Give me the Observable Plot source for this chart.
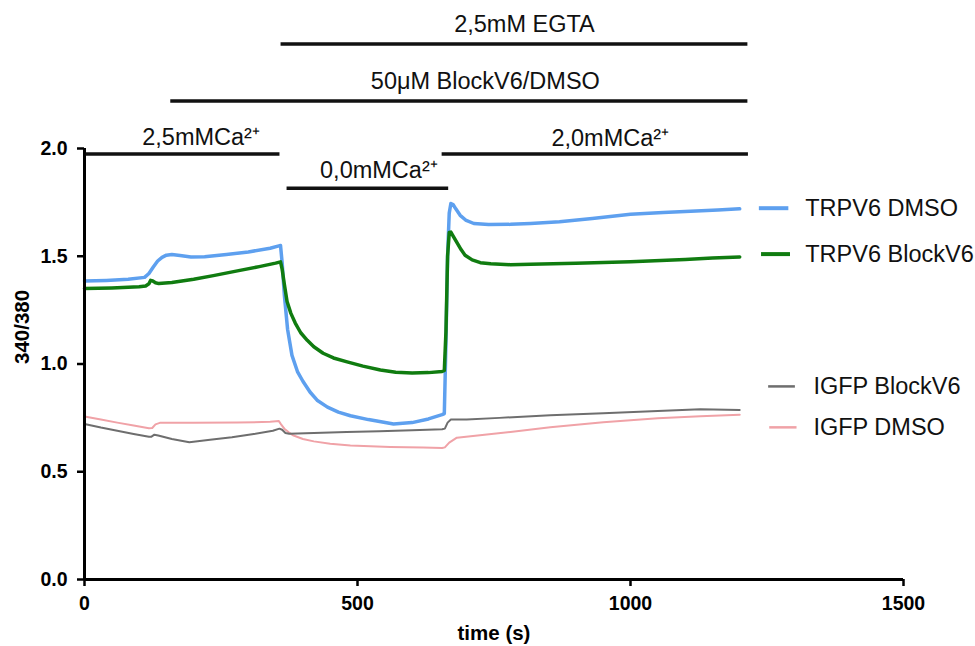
<!DOCTYPE html>
<html><head><meta charset="utf-8">
<script src="https://cdn.jsdelivr.net/npm/d3@7"></script>
<script src="https://cdn.jsdelivr.net/npm/@observablehq/plot@0.6"></script>
<style>body{margin:0;background:#fff}</style>
</head><body><div id="chart"></div>
<script>
// ---- data (time in s, ratio 340/380) ----
const trpv6DmsoT = [0,40,80,110,118,126,134,142,150,160,175,195,220,260,300,340,356,359,362,366,372,380,390,400,413,426,445,465,487,520,566,600,630,655,659,662,665,668,671,675,680,688,698,713,740,780,817,870,930,1000,1060,1120,1160,1200];
const trpv6DmsoV = [1.385,1.388,1.393,1.402,1.42,1.45,1.478,1.495,1.505,1.508,1.503,1.497,1.498,1.508,1.52,1.537,1.548,1.55,1.47,1.32,1.16,1.04,0.965,0.92,0.87,0.832,0.80,0.777,0.76,0.742,0.722,0.728,0.745,0.765,0.77,1.10,1.50,1.70,1.745,1.74,1.72,1.69,1.668,1.652,1.647,1.648,1.652,1.66,1.675,1.695,1.703,1.71,1.715,1.72];

const trpv6BlockT = [0,50,100,112,118,121,125,130,136,160,200,236,280,320,350,359,362,366,371,378,386,396,408,420,437,456,481,510,542,570,600,630,655,659,662,665,668,671,676,683,690,697,710,725,744,780,817,900,1000,1100,1150,1200];
const trpv6BlockV = [1.35,1.353,1.358,1.362,1.372,1.388,1.385,1.377,1.373,1.378,1.393,1.41,1.432,1.452,1.468,1.474,1.44,1.37,1.29,1.235,1.19,1.145,1.11,1.08,1.05,1.028,1.01,0.99,0.972,0.962,0.958,0.96,0.965,0.97,1.15,1.50,1.61,1.612,1.59,1.56,1.53,1.505,1.483,1.47,1.465,1.461,1.463,1.468,1.474,1.485,1.492,1.497];

const igfpBlockT = [0,30,60,90,118,122,128,135,160,192,230,270,310,345,357,362,368,375,420,480,540,600,655,660,665,671,700,760,853,950,1050,1128,1200];
const igfpBlockV = [0.722,0.705,0.69,0.675,0.662,0.662,0.672,0.668,0.652,0.637,0.648,0.66,0.675,0.69,0.70,0.695,0.68,0.676,0.68,0.684,0.688,0.692,0.697,0.70,0.728,0.742,0.742,0.75,0.762,0.772,0.782,0.79,0.787];

const igfpDmsoT = [0,30,60,90,118,124,130,138,200,280,340,356,360,366,374,383,400,420,450,487,560,620,655,660,668,682,720,780,853,950,1050,1128,1200];
const igfpDmsoV = [0.756,0.742,0.728,0.715,0.702,0.703,0.72,0.727,0.727,0.728,0.732,0.735,0.72,0.70,0.683,0.668,0.652,0.641,0.63,0.622,0.615,0.612,0.61,0.613,0.635,0.658,0.668,0.685,0.707,0.73,0.748,0.757,0.765];

const seriesNames = ["TRPV6 DMSO","TRPV6 BlockV6","IGFP BlockV6","IGFP DMSO"];

// protocol (application periods, s)
const protocolLabels = ["2,5mM EGTA","50μM BlockV6/DMSO","2,5mMCa²⁺","0,0mMCa²⁺","2,0mMCa²⁺"];
const protocolStart = [360,158,3,371,655];
const protocolEnd   = [1215,1215,358,667,1216];

const xTicks = [0,500,1000,1500];
const yTicks = [0,0.5,1.0,1.5,2.0];

// ---- layout / style ----
const font = "'Liberation Sans', Arial, Helvetica, sans-serif";
const colors = ["#5ea0ef","#107c10","#6e6e6e","#f0a2a7"];
const widths = [3.5,3.5,2,2];
const protoRow = [2.485,2.22,1.974,1.816,1.974];   // vertical row of each bar (in y units, above frame)
const protoDx = [10,26,18,11,15];
const protoDy = [-12,-12,-9,-10,-8];
const legendRow = [1.723,1.51,0.896,0.706];
const legendLine = [[1236,1290],[1240,1293],[1253,1302],[1255,1305]];
const legendTextX = [1320,1320,1335,1335];

const toRows = (T,V) => T.map((t,i)=>({t, v:V[i]}));
const seriesData = [toRows(trpv6DmsoT,trpv6DmsoV), toRows(trpv6BlockT,trpv6BlockV), toRows(igfpBlockT,igfpBlockV), toRows(igfpDmsoT,igfpDmsoV)];
const drawOrder = [3,2,0,1];

const protocol = protocolLabels.map((label,i)=>({label, start:protocolStart[i], end:protocolEnd[i], i}));
const legend = seriesNames.map((name,i)=>({name, i}));

const chart = Plot.plot({
  width: 975, height: 646,
  marginLeft: 84, marginRight: 72, marginTop: 148, marginBottom: 67,
  x: {domain:[0,1500]},
  y: {domain:[0,2]},
  style: {fontFamily: font, background:"white", color:"black", overflow:"visible"},
  marks: [
    ...drawOrder.map(k => Plot.line(seriesData[k], {x:"t", y:"v", stroke:colors[k], strokeWidth:widths[k], strokeLinejoin:"round"})),
    Plot.ruleY([0], {strokeWidth:3}),
    Plot.ruleX([0], {strokeWidth:3}),
    Plot.axisX({ticks:xTicks, tickFormat:d3.format("d"), tickSize:7, tickPadding:10, strokeWidth:2.5, fontSize:19.5, fontWeight:"bold", label:null}),
    Plot.axisY({ticks:yTicks, tickFormat:d3.format(".1f"), tickSize:7, tickPadding:10, strokeWidth:2.5, fontSize:19.5, fontWeight:"bold", label:null}),
    Plot.text(["340/380"], {frameAnchor:"left", dx:-62, rotate:-90, fontSize:20.5, fontWeight:"bold"}),
    Plot.text(["time (s)"], {frameAnchor:"bottom", dy:60, lineAnchor:"bottom", fontSize:20.5, fontWeight:"bold"}),
    // protocol bars
    Plot.ruleY(protocol, {y:d=>protoRow[d.i], x1:"start", x2:"end", strokeWidth:3.5, stroke:"#111"}),
    ...protocol.map(d => Plot.text([d], {x:e=>(e.start+e.end)/2, y:e=>protoRow[e.i], text:"label", dx:protoDx[d.i], dy:protoDy[d.i], lineAnchor:"bottom", fontSize:23.5, fill:"#111"})),
    // legend
    Plot.ruleY(legend, {y:d=>legendRow[d.i], x1:d=>legendLine[d.i][0], x2:d=>legendLine[d.i][1], stroke:d=>colors[d.i], strokeWidth:d=>widths[d.i]+0.5}),
    Plot.text(legend, {x:d=>legendTextX[d.i], y:d=>legendRow[d.i], text:"name", textAnchor:"start", fontSize:23.5, fill:"#111"})
  ]
});
document.getElementById("chart").appendChild(chart);
</script>
</body></html>
